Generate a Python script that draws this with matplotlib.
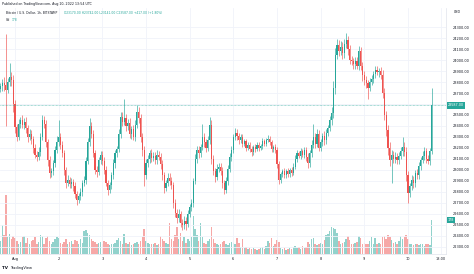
import numpy as np
import matplotlib
matplotlib.use("Agg")
import matplotlib.pyplot as plt

# hourly BTC/USD candles, Jul 31 16:00 -> Aug 10 13:00 (hours from Aug 1 00:00)
first_open = 23740.0
closes = [
    23760, 23790, 23770, 23730, 23800, 23845, 23820, 23600,
    23390, 23300, 23420, 23450, 23410, 23440, 23380, 23300, 23330, 23280, 23200, 23140,
    23120, 23160, 23300, 23450, 23420, 23250, 23090, 22970, 22990, 23060, 23180, 23250,
    23300, 23230, 23150, 23000, 22880, 22910, 22870, 22890, 22850, 22780, 22730, 22760,
    22800, 22880, 22910, 23080, 23250, 23400, 23330, 23150, 23000, 22980, 23090, 23140,
    23080, 23000, 22880, 22820, 22860, 22950, 23060, 23150, 23190, 23330, 23480, 23440,
    23470, 23400, 23430, 23330, 23370, 23300, 23410, 23530, 23470, 23300, 23180, 22950,
    23060, 23100, 23150, 23110, 23130, 23090, 23140, 23120, 23050, 22950, 22840, 22880,
    22930, 22900, 22860, 22700, 22610, 22560, 22600, 22520, 22500, 22540, 22510, 22600,
    22660, 22700, 22900, 23100, 23180, 23150, 23210, 23300, 23250, 23200, 23270, 23410,
    23100, 22990, 22940, 23010, 23030, 22990, 22880, 22820, 22900, 23010, 23120, 23180,
    23300, 23340, 23310, 23270, 23300, 23240, 23260, 23200, 23230, 23190, 23160, 23210,
    23190, 23230, 23200, 23220, 23260, 23240, 23270, 23280, 23250, 23190, 23210, 23180,
    23050, 22910, 22960, 22990, 22950, 22990, 22960, 23000, 22970, 23030, 23100, 23150,
    23130, 23170, 23140, 23180, 23120, 23060, 23150, 23230, 23300, 23240, 23330, 23200,
    23250, 23310, 23270, 23340, 23380, 23450, 23520, 23750, 24050, 24140, 24080, 24120,
    24060, 24150, 24180, 24100, 24000, 23990, 23960, 23990, 23950, 24080, 23950, 23860,
    23820, 23790, 23750, 23800, 23830, 23870, 23910, 23890, 23900, 23860, 23700, 23500,
    23360, 23200, 23090, 23140, 23100, 23120, 23090, 23130, 23170, 23210, 23160, 22950,
    22790, 22850, 22910, 22880, 22970, 22950, 23040, 23090, 23130, 23170, 23100, 23080,
    23170, 23587,
]
wick_hi = [
    30, 40, 60, 470, 40, 125, 50, 40,
    40, 30, 40, 35, 50, 30, 40, 30, 45, 35, 30, 40, 30, 45, 40, 50, 40, 35, 30, 40, 30, 35, 40, 60,
    155, 40, 30, 35, 30, 40, 30, 35, 30, 40, 30, 35, 40, 30, 35, 40, 45, 70, 40, 30, 35, 40, 30, 35,
    30, 35, 40, 30, 35, 30, 40, 35, 30, 40, 50, 45, 180, 40, 35, 40, 30, 35, 40, 60, 45, 40, 35, 40,
    40, 35, 30, 40, 35, 30, 40, 35, 30, 40, 35, 30, 45, 40, 35, 30, 40, 35, 45, 30, 35, 40, 30, 35,
    35, 40, 30, 45, 40, 35, 30, 120, 40, 35, 40, 70, 40, 35, 30, 40, 35, 30, 35, 30, 40, 35, 30, 40,
    30, 40, 35, 30, 25, 30, 25, 20, 25, 20, 25, 20, 25, 20, 25, 20, 30, 25, 20, 40, 30, 25, 20, 25,
    25, 30, 25, 20, 25, 20, 25, 20, 25, 30, 35, 30, 25, 30, 25, 30, 25, 30, 35, 40, 120, 35, 40, 30,
    35, 30, 40, 35, 30, 40, 50, 60, 55, 50, 45, 50, 40, 45, 65, 40, 35, 40, 30, 35, 40, 45, 40, 35,
    40, 35, 30, 40, 35, 30, 40, 35, 30, 40, 45, 50, 40, 45, 50, 40, 35, 40, 30, 35, 40, 90, 40, 45,
    40, 35, 40, 35, 30, 40, 35, 30, 40, 35, 30, 35, 30, 155,
]
wick_lo = [
    30, 40, 50, 330, 30, 40, 60, 70,
    50, 40, 30, 40, 30, 35, 40, 45, 30, 40, 50, 35, 40, 30, 35, 30, 40, 45, 50, 40, 30, 35, 30, 30,
    30, 40, 35, 45, 40, 30, 35, 30, 40, 35, 50, 30, 35, 40, 30, 35, 30, 30, 40, 35, 40, 45, 30, 35,
    35, 40, 30, 45, 30, 35, 30, 40, 35, 30, 35, 40, 30, 45, 35, 40, 45, 30, 35, 30, 40, 45, 50, 100,
    35, 30, 40, 35, 30, 40, 35, 30, 40, 45, 50, 35, 30, 40, 35, 50, 40, 45, 35, 40, 45, 35, 60, 30,
    30, 35, 40, 30, 35, 40, 35, 30, 40, 35, 30, 35, 45, 40, 50, 35, 30, 40, 45, 40, 30, 35, 30, 35,
    25, 30, 35, 30, 25, 30, 20, 25, 20, 25, 30, 20, 25, 20, 25, 20, 25, 20, 25, 20, 25, 30, 25, 30,
    30, 40, 25, 20, 25, 20, 25, 20, 25, 20, 25, 30, 25, 30, 25, 30, 35, 40, 30, 35, 30, 40, 35, 30,
    30, 35, 40, 30, 35, 30, 40, 50, 60, 40, 45, 35, 50, 40, 45, 50, 40, 35, 45, 40, 35, 40, 45, 50,
    45, 40, 100, 35, 30, 40, 35, 30, 40, 35, 45, 50, 55, 60, 50, 210, 40, 35, 40, 35, 30, 40, 35, 50,
    90, 40, 35, 40, 35, 30, 35, 40, 30, 35, 40, 30, 35, 29,
]
volumes = [
    70, 150, 100, 310, 90, 105, 80, 95,
    85, 70, 55, 65, 90, 95, 60, 85, 55, 70, 75, 90, 55, 65, 100, 95, 50, 85, 95, 70, 55, 65, 80, 90,
    85, 60, 55, 65, 80, 50, 65, 70, 55, 75, 70, 55, 80, 60, 120, 125, 110, 100, 80, 70, 65, 50, 60, 65,
    55, 70, 65, 50, 45, 55, 50, 60, 75, 85, 70, 55, 105, 60, 50, 65, 45, 55, 60, 65, 55, 70, 90, 130,
    70, 60, 55, 50, 55, 60, 45, 55, 95, 80, 70, 60, 55, 165, 80, 70, 100, 140, 80, 110, 70, 90, 60, 80,
    70, 90, 200, 130, 100, 70, 160, 90, 60, 55, 70, 80, 140, 80, 60, 50, 45, 50, 65, 70, 50, 45, 60, 65,
    60, 55, 85, 60, 35, 80, 30, 35, 25, 30, 25, 30, 25, 20, 25, 30, 35, 25, 40, 70, 60, 85, 40, 55,
    75, 65, 30, 25, 30, 20, 25, 30, 25, 35, 40, 30, 35, 25, 40, 30, 35, 65, 50, 80, 85, 55, 45, 50,
    60, 55, 75, 100, 105, 120, 140, 135, 130, 110, 70, 55, 60, 65, 80, 95, 75, 55, 50, 60, 65, 95, 85, 55,
    60, 55, 50, 70, 90, 55, 85, 50, 60, 55, 90, 95, 80, 100, 90, 75, 60, 65, 55, 70, 95, 80, 90, 100,
    80, 55, 50, 45, 55, 50, 45, 55, 50, 40, 55, 50, 45, 178,
]

day_ticks = [0, 24, 48, 72, 96, 120, 144, 168, 192, 216, 234]
day_labels = ["Aug", "2", "3", "4", "5", "6", "7", "8", "9", "10", "18:00"]
price_ticks = [22300, 22400, 22500, 22600, 22700, 22800, 22900, 23000, 23100, 23200, 23300,
               23400, 23500, 23600, 23700, 23800, 23900, 24000, 24100, 24200, 24300]

UP = "#26a69a"
DOWN = "#ef5350"
TXT = "#131722"

closes = np.array(closes, dtype=float)
opens = np.r_[first_open, closes[:-1]]
highs = np.maximum(opens, closes) + np.array(wick_hi)
lows = np.minimum(opens, closes) - np.array(wick_lo)
hours = np.arange(-8, -8 + len(closes))
up = closes >= opens
colors = np.where(up, UP, DOWN)

W, H = 474, 274
fig = plt.figure(figsize=(W / 100, H / 100), dpi=100)
fig.patch.set_facecolor("white")
ax = fig.add_axes([0, 20 / H, 446 / W, 246 / H])
vax = ax.twinx()
ax.set_zorder(vax.get_zorder() + 1)
ax.patch.set_visible(False)

# volume overlay
vax.bar(hours, volumes, width=0.8, color=colors, alpha=0.5, linewidth=0)
vax.set_ylim(0, 1290)
vax.set_yticks([])
vax.text(1.004, volumes[-1], "%d" % volumes[-1], transform=vax.get_yaxis_transform(),
         fontsize=2.4, color="white", va="center", ha="left",
         bbox=dict(boxstyle="square,pad=0.35", fc=UP, ec="none"))

# candles
ax.vlines(hours, lows, highs, colors=colors, linewidth=0.45)
body = np.maximum(np.abs(closes - opens), 4)
ax.bar(hours, body, bottom=np.minimum(opens, closes), width=0.62, color=colors, linewidth=0)

last = closes[-1]
ax.axhline(last, color=UP, lw=0.5, ls=(0, (1, 1)), alpha=0.8)
ax.text(1.004, last, "%.2f" % last, transform=ax.get_yaxis_transform(),
        fontsize=2.4, color="white", va="center", ha="left",
        bbox=dict(boxstyle="square,pad=0.35", fc=UP, ec="none"))

ax.set_xlim(-8.24, 236.9)
ax.set_ylim(22236, 24473)
ax.set_xticks(day_ticks)
ax.set_xticklabels(day_labels)
ax.yaxis.tick_right()
ax.set_yticks(price_ticks)
# the last-price tag covers the 23600 label, as on the chart
ax.set_yticklabels(["" if abs(p - last) < 40 else "%.2f" % p for p in price_ticks])
ax.tick_params(axis="y", length=0, pad=4.6, labelsize=2.5, labelcolor=TXT)
ax.tick_params(axis="x", length=0, pad=2.2, labelsize=2.5, labelcolor=TXT)
ax.grid(True, color="#f0f3fa", lw=0.6)
ax.set_axisbelow(True)
for a in (ax, vax):
    for s in a.spines.values():
        s.set_visible(False)
for side in ("right", "bottom"):
    vax.spines[side].set_visible(True)
    vax.spines[side].set_color("#e0e3eb")
    vax.spines[side].set_linewidth(0.5)

# header and footer texts
def px(x, y):
    return x / W, 1 - y / H

fig.text(*px(2, 4), "Published on TradingView.com, Aug 10, 2022 13:54 UTC",
         fontsize=2.3, color=TXT, va="center", ha="left")
fig.text(*px(6, 13), "Bitcoin / U.S. Dollar, 1h, BITSTAMP",
         fontsize=2.2, color=TXT, va="center", ha="left")
fig.text(*px(64, 13), "O23170.00 H23742.00 L23141.00 C23587.00 +417.00 (+1.80%)",
         fontsize=2.2, color=UP, va="center", ha="left")
fig.text(*px(6, 20), "Vol", fontsize=2.2, color=TXT, va="center", ha="left")
fig.text(*px(12, 20), "178", fontsize=2.2, color=UP, va="center", ha="left")
fig.text(*px(454, 12), "USD", fontsize=2.3, color=TXT, va="center", ha="left")
fig.text(*px(2, 268), "TV", fontsize=3, color=TXT, weight="bold", va="center", ha="left")
fig.text(*px(10, 268), "TradingView", fontsize=2.6, color=TXT, va="center", ha="left")

fig.savefig("out.png", dpi=100, facecolor="white")
